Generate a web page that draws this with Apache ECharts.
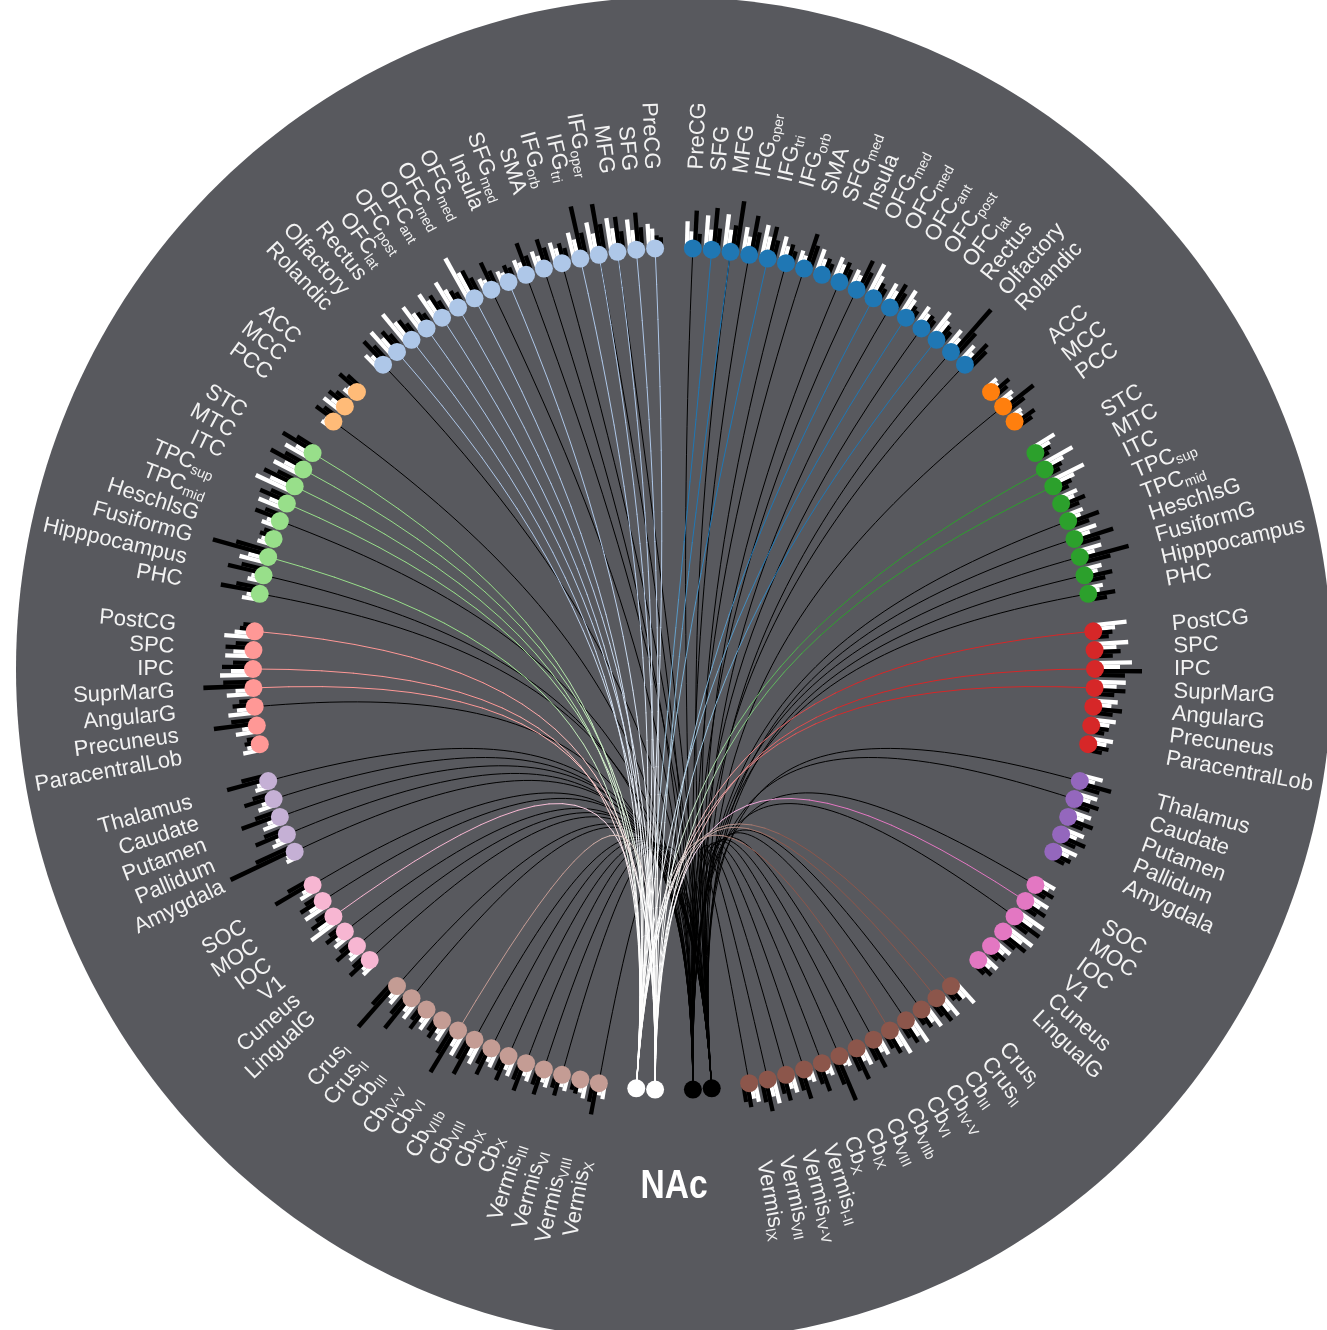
<!DOCTYPE html>
<html>
<head>
<meta charset="utf-8">
<script src="https://cdn.jsdelivr.net/npm/echarts@6/dist/echarts.min.js"></script>
<style>
  html, body { margin: 0; padding: 0; background: #ffffff; }
  #main { width: 1327px; height: 1330px; }
</style>
</head>
<body>
<div id="main"></div>
<script>
// ---------------- region names (clockwise from the top, per hemisphere) ----------------
const frontalNames = ['PreCG','SFG','MFG','IFG_oper','IFG_tri','IFG_orb','SMA','SFG_med','Insula','OFG_med','OFC_med','OFC_ant','OFC_post','OFC_lat','Rectus','Olfactory','Rolandic'];
const cingulateNames = ['ACC','MCC','PCC'];
const temporalNames = ['STC','MTC','ITC','TPC_sup','TPC_mid','HeschlsG','FusiformG','Hipppocampus','PHC'];
const parietalNames = ['PostCG','SPC','IPC','SuprMarG','AngularG','Precuneus','ParacentralLob'];
const subcorticalNames = ['Thalamus','Caudate','Putamen','Pallidum','Amygdala'];
const occipitalNames = ['SOC','MOC','IOC','V1','Cuneus','LingualG'];
const cerebellumNamesL = ['Crus_I','Crus_II','Cb_III','Cb_IV-V','Cb_VI','Cb_VIIb','Cb_VIII','Cb_IX','Cb_X','Vermis_III','Vermis_VI','Vermis_VIII','Vermis_X'];
const cerebellumNamesR = ['Crus_I','Crus_II','Cb_III','Cb_IV-V','Cb_VI','Cb_VIIb','Cb_VIII','Cb_IX','Cb_X','Vermis_I-II','Vermis_IV-V','Vermis_VII','Vermis_IX'];

// group colours: left hemisphere light, right hemisphere dark
const groupColorsL = ['#aec7e8','#ffbb78','#98df8a','#ff9896','#c5b0d5','#f7b6d2','#c49c94'];
const groupColorsR = ['#1f77b4','#ff7f0e','#2ca02c','#d62728','#9467bd','#e377c2','#8c564b'];
const nacColors = ['#ffffff', '#000000'];   // left NAc nodes, right NAc nodes

// ---------------- bar lengths per region: [white a, white b, black a, black b] ----------------
const frontalBarsL = [[25,20,13,11],[31,20,37,22],[35,24,35,20],[34,22,51,30],[28,20,53,25],[23,16,20,14],[20,14,30,20],[18,14,33,18],[14,11,17,13],[15,12,29,18],[49,30,30,20],[33,22,18,14],[32,22,25,16],[31,20,18,14],[38,24,23,16],[32,20,25,18],[19,14,30,20]];
const frontalBarsR = [[27,17,38,15],[34,20,42,22],[37,22,27,52],[27,18,40,24],[33,22,33,20],[26,17,20,14],[17,13,37,26],[25,16,18,14],[24,18,22,16],[19,15,33,22],[35,24,18,14],[24,18,28,20],[28,20,15,12],[22,16,17,14],[30,22,19,15],[23,16,58,30],[20,14,30,24]];
const cingulateBarsL = [[12,10,25,18],[22,15,22,16],[10,9,23,16]];
const cingulateBarsR = [[13,11,22,16],[17,13,37,22],[13,11,23,17]];
const temporalBarsL = [[28,18,36,22],[30,20,38,24],[40,26,35,22],[28,18,30,20],[17,13,27,18],[15,12,15,12],[28,20,58,35],[15,12,37,24],[17,13,40,25]];
const temporalBarsR = [[26,18,16,12],[35,22,18,14],[37,24,19,14],[20,15,25,17],[18,14,32,20],[25,17,40,25],[24,16,50,30],[19,14,28,20],[16,12,27,18]];
const parietalBarsL = [[30,20,15,12],[28,20,28,18],[33,22,31,20],[27,18,50,30],[27,18,22,15],[22,15,43,25],[18,13,15,12]];
const parietalBarsR = [[34,22,19,15],[34,22,26,18],[37,25,47,30],[31,22,31,20],[24,18,29,20],[24,18,18,14],[24,18,21,15]];
const subcorticalBarsL = [[15,12,42,26],[18,13,30,20],[20,14,40,24],[18,13,33,22],[12,10,70,40]];
const subcorticalBarsR = [[22,15,33,22],[22,16,26,18],[22,16,27,18],[22,16,27,18],[23,16,20,15]];
const occipitalBarsL = [[18,13,42,25],[25,17,25,17],[32,20,25,17],[18,13,22,15],[15,12,25,17],[15,12,25,17]];
const occipitalBarsR = [[19,14,22,15],[23,16,25,17],[31,20,32,20],[32,22,30,20],[20,15,20,14],[20,14,20,14]];
const cerebellumBarsL = [[18,14,56,30],[21,15,40,25],[20,14,25,17],[20,14,22,16],[25,17,50,30],[24,17,40,25],[18,14,30,20],[19,14,27,18],[17,13,30,20],[17,13,27,18],[15,12,22,15],[18,13,15,12],[15,12,32,20]];
const cerebellumBarsR = [[28,18,17,13],[27,18,27,18],[25,17,20,14],[30,20,25,17],[30,20,25,17],[20,15,30,20],[21,15,33,22],[13,11,47,28],[15,12,29,20],[15,12,30,20],[20,15,26,18],[26,18,32,22],[20,16,24,18]];

// ---------------- connections to NAc: 'c' = to white NAc, 'k' = to black NAc ----------------
const frontalLinksL = ['c','c','ck','ck','c','k','k','k','c','k','c','c','c','c','c','c','k'];
const frontalLinksR = ['k','c','ck','k','c','k','k','','k','k','c','k','c','k','c','k','k'];
const cingulateLinksL = ['','','k'];
const cingulateLinksR = ['','k',''];
const temporalLinksL = ['c','c','c','c','k','','c','k','k'];
const temporalLinksR = ['','c','c','','k','k','k','k','k'];
const parietalLinksL = ['c','','c','c','k','',''];
const parietalLinksR = ['c','','c','c','','',''];
const subcorticalLinksL = ['k','k','k','k','k'];
const subcorticalLinksR = ['k','k','','',''];
const occipitalLinksL = ['k','k','c','k','k','k'];
const occipitalLinksR = ['k','c','k','','',''];
const cerebellumLinksL = ['k','k','','','c','k','k','k','k','k','k','','k'];
const cerebellumLinksR = ['c','c','k','k','c','k','k','k','k','k','k','k','k'];

// ---------------- layout constants ----------------
const SLOTS = 140;                 // angular slots around the ring
const STEP = 360 / SLOTS;
const POLAR_R = 700;               // polar radius in px == radius axis max (1 unit = 1 px)
const NODE_R = 421;                // ring radius of the region nodes
const LABEL_R = 500;               // inner end of the region labels
const DISC_RX = 658, DISC_RY = 672; // grey background disc (slightly tall)
const BAR_W = 0.55;                // angular width of one sub-bar (deg)
const CTRL_R1 = 80, CTRL_R2 = 120; // bundling control radii
const SEG = 28;                    // segments per coloured link

const FONT = "'Liberation Sans', Arial, Helvetica, sans-serif";

function buildGroups(names, bars, links, colors) {
  return names.map((n, i) => ({ names: n, bars: bars[i], links: links[i], color: colors[i] }));
}
const groupsL = buildGroups(
  [frontalNames, cingulateNames, temporalNames, parietalNames, subcorticalNames, occipitalNames, cerebellumNamesL],
  [frontalBarsL, cingulateBarsL, temporalBarsL, parietalBarsL, subcorticalBarsL, occipitalBarsL, cerebellumBarsL],
  [frontalLinksL, cingulateLinksL, temporalLinksL, parietalLinksL, subcorticalLinksL, occipitalLinksL, cerebellumLinksL],
  groupColorsL);
const groupsR = buildGroups(
  [frontalNames, cingulateNames, temporalNames, parietalNames, subcorticalNames, occipitalNames, cerebellumNamesR],
  [frontalBarsR, cingulateBarsR, temporalBarsR, parietalBarsR, subcorticalBarsR, occipitalBarsR, cerebellumBarsR],
  [frontalLinksR, cingulateLinksR, temporalLinksR, parietalLinksR, subcorticalLinksR, occipitalLinksR, cerebellumLinksR],
  groupColorsR);

// place regions on slots; one empty slot separates groups
const nodes = [];
function place(groups, side) {
  let slot = 1;
  groups.forEach(g => {
    g.names.forEach((name, i) => {
      const s = slot + i;
      nodes.push({
        angle: side === 'R' ? s * STEP : 360 - s * STEP,
        side, name, color: g.color, bars: g.bars[i], link: g.links[i]
      });
    });
    slot += g.names.length + 1;
  });
  return slot;
}
place(groupsL, 'L');
const nacSlot = place(groupsR, 'R');

// NAc: two white nodes left of the midline, two black nodes right of it
const whiteNAc = [360 - nacSlot * STEP, 360 - (nacSlot + 1) * STEP].map(a => ({ angle: a, color: nacColors[0] }));
const blackNAc = [nacSlot * STEP, (nacSlot + 1) * STEP].map(a => ({ angle: a, color: nacColors[1] }));

const links = [];
let wi = 0, bi = 0;
nodes.forEach(n => {
  if (n.link.indexOf('k') >= 0) links.push({ from: n, to: blackNAc[bi++ % 2], kind: 'k' });
});
nodes.forEach(n => {
  if (n.link.indexOf('c') >= 0) links.push({ from: n, to: whiteNAc[wi++ % 2], kind: 'c' });
});

const barItems = [];
nodes.forEach(n => n.bars.forEach((len, k) => barItems.push([NODE_R + len, n.angle, k])));

// ---------------- helpers ----------------
function hexToRgb(h) { const v = parseInt(h.slice(1), 16); return [(v >> 16) & 255, (v >> 8) & 255, v & 255]; }
function mixColor(a, b, t) {
  const A = hexToRgb(a), B = hexToRgb(b);
  return 'rgb(' + A.map((v, i) => Math.round(v + (B[i] - v) * t)).join(',') + ')';
}
function fade(t) { return Math.min(1, Math.max(0, (t - 0.3) / 0.45)); }
function bez(p0, p1, p2, p3, t) {
  const u = 1 - t;
  const a = u * u * u, b = 3 * u * u * t, c = 3 * u * t * t, d = t * t * t;
  return [a * p0[0] + b * p1[0] + c * p2[0] + d * p3[0], a * p0[1] + b * p1[1] + c * p2[1] + d * p3[1]];
}
function richText(name) {
  const i = name.indexOf('_');
  return i < 0 ? '{m|' + name + '}' : '{m|' + name.slice(0, i) + '}{s|' + name.slice(i + 1) + '}';
}

const chart = echarts.init(document.getElementById('main'), null, { renderer: 'canvas' });

chart.setOption({
  backgroundColor: '#ffffff',
  animation: false,
  polar: { center: [674, 669], radius: POLAR_R },
  angleAxis: { type: 'value', min: 0, max: 360, startAngle: 90, clockwise: true, show: false },
  radiusAxis: { type: 'value', min: 0, max: POLAR_R, show: false },
  series: [
    // background disc
    {
      type: 'custom', coordinateSystem: 'polar', silent: true, clip: false, z: 0,
      data: [[DISC_RX, DISC_RY]],
      renderItem(params, api) {
        const c = api.coord([0, 0]);
        const ex = api.coord([api.value(0), 90]);
        const ey = api.coord([api.value(1), 180]);
        return {
          type: 'ellipse',
          shape: { cx: c[0], cy: c[1], rx: Math.abs(ex[0] - c[0]), ry: Math.abs(ey[1] - c[1]) },
          style: { fill: '#58595e' }
        };
      }
    },
    // links to NAc
    {
      type: 'custom', coordinateSystem: 'polar', silent: true, clip: false, z: 1,
      data: links.map((l, i) => [NODE_R, l.from.angle, l.to.angle, i]),
      renderItem(params, api) {
        const L = links[api.value(3)];
        const p0 = api.coord([NODE_R, api.value(1)]);
        const p1 = api.coord([CTRL_R1, api.value(1)]);
        const p2 = api.coord([CTRL_R2, L.kind === 'c' ? 188 : 172]);
        const p3 = api.coord([NODE_R, api.value(2)]);
        if (L.kind === 'k') {
          return {
            type: 'bezierCurve',
            shape: { x1: p0[0], y1: p0[1], cpx1: p1[0], cpy1: p1[1], cpx2: p2[0], cpy2: p2[1], x2: p3[0], y2: p3[1] },
            style: { stroke: '#000000', lineWidth: 1, fill: null }
          };
        }
        const children = [];
        let prev = p0;
        for (let k = 1; k <= SEG; k++) {
          const t = k / SEG;
          const pt = bez(p0, p1, p2, p3, t);
          children.push({
            type: 'line',
            shape: { x1: prev[0], y1: prev[1], x2: pt[0], y2: pt[1] },
            style: { stroke: mixColor(L.from.color, L.to.color, fade(t - 0.5 / SEG)), lineWidth: 1, lineCap: 'round' }
          });
          prev = pt;
        }
        return { type: 'group', children };
      }
    },
    // white / black bars
    {
      type: 'custom', coordinateSystem: 'polar', silent: true, clip: false, z: 2,
      data: barItems,
      renderItem(params, api) {
        const r1 = api.value(0), a = api.value(1), k = api.value(2);
        const mid = a + (k - 1.5) * BAR_W;
        const a0 = mid - BAR_W / 2, a1 = mid + BAR_W / 2;
        return {
          type: 'polygon',
          shape: { points: [api.coord([NODE_R, a0]), api.coord([r1, a0]), api.coord([r1, a1]), api.coord([NODE_R, a1])] },
          style: { fill: k < 2 ? '#ffffff' : '#000000' }
        };
      }
    },
    // region nodes and NAc nodes
    {
      type: 'scatter', coordinateSystem: 'polar', silent: true, z: 3,
      symbol: 'circle', symbolSize: 18,
      data: nodes.concat(whiteNAc, blackNAc).map(n => ({ value: [NODE_R, n.angle], itemStyle: { color: n.color, opacity: 1 } }))
    },
    // region labels
    {
      type: 'custom', coordinateSystem: 'polar', silent: true, clip: false, z: 4,
      data: nodes.map((n, i) => [LABEL_R, n.angle, i]),
      renderItem(params, api) {
        const n = nodes[api.value(2)];
        const a = api.value(1);
        const p = api.coord([LABEL_R, a]);
        const right = a < 180;
        const rotDeg = right ? 90 - a : 270 - a;
        const align = right ? 'left' : 'right';
        return {
          type: 'text',
          x: p[0], y: p[1],
          rotation: rotDeg * Math.PI / 180,
          style: {
            text: richText(n.name),
            fill: '#f2f2f2',
            fontFamily: FONT, fontSize: 22,
            align: align, textAlign: align,
            verticalAlign: 'middle', textVerticalAlign: 'middle',
            rich: {
              m: { fontSize: 22, lineHeight: 26, fontFamily: FONT, fill: '#f2f2f2' },
              s: { fontSize: 14, lineHeight: 7, verticalAlign: 'bottom', fontFamily: FONT, fill: '#f2f2f2' }
            }
          }
        };
      }
    },
    // NAc title (bold, slightly condensed)
    {
      type: 'custom', coordinateSystem: 'polar', silent: true, clip: false, z: 4,
      data: [[518, 180]],
      renderItem(params, api) {
        const p = api.coord([api.value(0), api.value(1)]);
        return {
          type: 'text', x: p[0], y: p[1], scaleX: 0.84, scaleY: 1,
          style: {
            text: 'NAc', fill: '#ffffff',
            fontFamily: "'Liberation Sans', Arial, sans-serif",
            fontWeight: 'bold', fontSize: 40,
            align: 'center', textAlign: 'center',
            verticalAlign: 'middle', textVerticalAlign: 'middle'
          }
        };
      }
    }
  ]
});
</script>
</body>
</html>
